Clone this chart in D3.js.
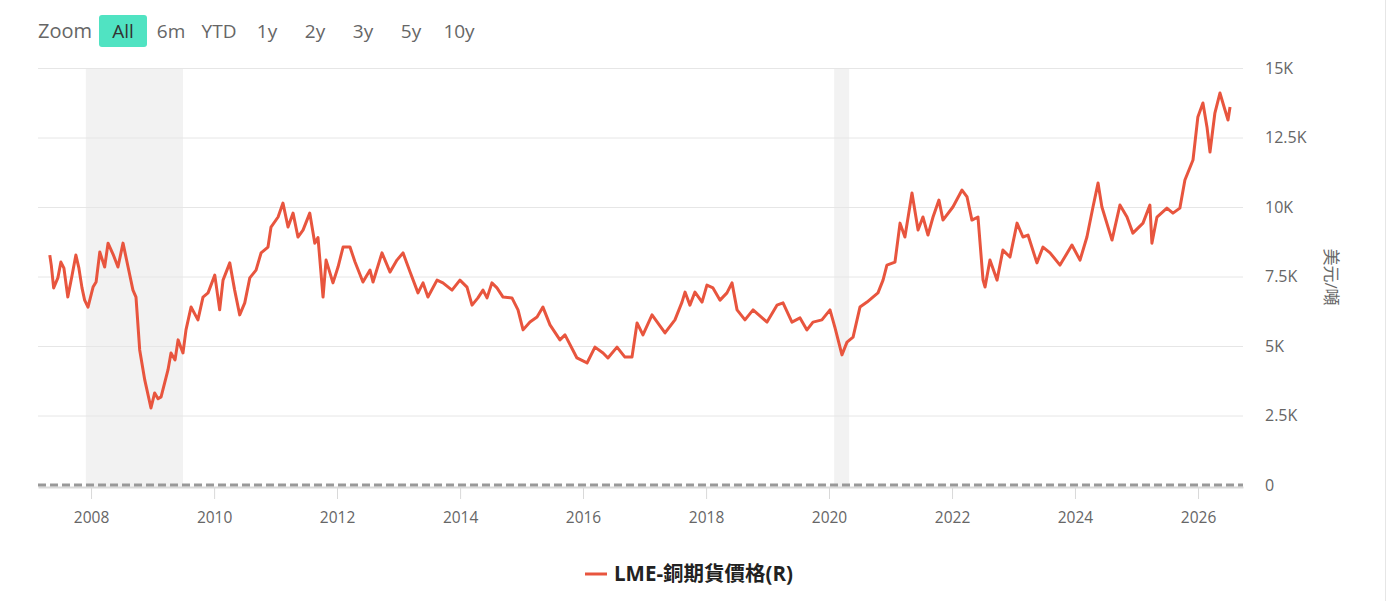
<!DOCTYPE html>
<html>
<head>
<meta charset="utf-8">
<script src="https://cdn.jsdelivr.net/npm/d3@7"></script>
<style>
  body { margin: 0; background: #fff; }
  svg text { font-family: "Open Sans", "Noto Sans", "Noto Sans CJK TC", sans-serif; }
</style>
</head>
<body>
<div id="wrapper"></div>
<script>
// LME copper futures, USD per tonne
const dates = [
  "2007-05-01","2007-05-10","2007-05-24","2007-06-18","2007-07-06","2007-07-24","2007-08-16","2007-09-09",
  "2007-10-03","2007-10-21","2007-11-08","2007-11-24","2007-12-14","2008-01-13","2008-01-31","2008-02-22",
  "2008-03-22","2008-04-11","2008-05-11","2008-06-09","2008-07-09","2008-08-08","2008-09-06","2008-09-24",
  "2008-10-16","2008-11-15","2008-12-22","2009-01-13","2009-02-02","2009-02-20","2009-04-02","2009-04-20",
  "2009-05-14","2009-06-01","2009-06-30","2009-07-18","2009-08-17","2009-09-27","2009-10-27","2009-11-26",
  "2010-01-05","2010-02-03","2010-02-23","2010-04-04","2010-05-03","2010-06-02","2010-07-02","2010-08-01",
  "2010-09-07","2010-10-07","2010-11-17","2010-12-05","2011-01-16","2011-02-14","2011-03-16","2011-04-15",
  "2011-05-14","2011-06-13","2011-07-23","2011-08-22","2011-09-10","2011-10-10","2011-10-28","2011-12-08",
  "2012-01-07","2012-02-06","2012-03-18","2012-04-17","2012-06-03","2012-07-15","2012-08-02","2012-09-24",
  "2012-11-11","2012-12-22","2013-01-27","2013-03-10","2013-04-26","2013-05-26","2013-06-24","2013-08-17",
  "2013-09-21","2013-11-14","2013-12-31","2014-02-11","2014-03-13","2014-04-17","2014-05-17","2014-06-10",
  "2014-07-09","2014-08-08","2014-09-13","2014-11-05","2014-12-11","2015-01-10","2015-02-20","2015-04-03",
  "2015-05-08","2015-06-19","2015-08-17","2015-09-16","2015-11-26","2016-01-25","2016-03-12","2016-04-29",
  "2016-05-28","2016-07-21","2016-09-06","2016-10-18","2016-11-17","2016-12-22","2017-02-14","2017-05-02",
  "2017-06-30","2017-08-11","2017-08-29","2017-09-27","2017-10-27","2017-12-08","2018-01-06","2018-02-11",
  "2018-03-25","2018-05-05","2018-06-04","2018-07-04","2018-08-20","2018-10-07","2018-12-29","2019-02-26",
  "2019-04-03","2019-05-26","2019-07-13","2019-08-23","2019-09-28","2019-11-20","2020-01-07","2020-02-06",
  "2020-03-18","2020-04-17","2020-05-23","2020-07-03","2020-08-14","2020-09-18","2020-10-18","2020-11-17",
  "2020-12-10","2021-01-27","2021-02-26","2021-03-27","2021-05-08","2021-06-13","2021-07-12","2021-08-11",
  "2021-09-10","2021-10-15","2021-11-08","2022-01-06","2022-03-01","2022-03-31","2022-04-29","2022-06-04",
  "2022-07-04","2022-07-16","2022-08-14","2022-09-25","2022-10-30","2022-12-11","2023-01-22","2023-02-26",
  "2023-03-28","2023-05-20","2023-06-25","2023-08-06","2023-10-04","2023-12-14","2024-01-31","2024-03-12",
  "2024-04-17","2024-05-17","2024-06-09","2024-08-08","2024-09-24","2024-11-05","2024-12-10","2025-02-08",
  "2025-03-21","2025-04-02","2025-05-02","2025-06-30","2025-08-05","2025-09-15","2025-10-15","2025-12-02",
  "2025-12-31","2026-01-30","2026-02-23","2026-03-13","2026-04-11","2026-05-11","2026-06-10","2026-06-28",
  "2026-07-10"
];
const copper = [
  8270,7900,7090,7450,8020,7800,6760,7500,
  8270,7800,7100,6650,6400,7120,7300,8380,
  7840,8700,8300,7840,8700,7840,7010,6760,
  4860,3780,2770,3310,3100,3170,4140,4750,
  4500,5220,4750,5580,6400,5940,6760,6910,
  7550,6300,7370,7990,7010,6120,6550,7450,
  7730,8350,8560,9280,9640,10140,9280,9780,
  8920,9170,9780,8700,8900,6760,8090,7270,
  7840,8560,8560,8020,7300,7730,7300,8350,
  7660,8090,8350,7660,6910,7270,6760,7370,
  7270,7010,7370,7120,6470,6730,7010,6730,
  7270,7090,6760,6730,6300,5580,5860,6040,
  6400,5760,5220,5400,4570,4390,4960,4750,
  4570,4960,4600,4600,5830,5400,6120,5470,
  5940,6580,6940,6470,6940,6580,7190,7090,
  6650,6910,7270,6300,5940,6300,5860,6470,
  6550,5860,6010,5580,5860,5940,6300,5650,
  4680,5140,5320,6400,6580,6760,6910,7370,
  7910,8020,9420,8920,10500,9170,9640,8990,
  9640,10250,9530,10000,10610,10360,9530,9640,
  7370,7120,8090,7370,8450,8200,9420,8920,
  8990,7990,8560,8350,7910,8630,8090,8920,
  10000,10860,10000,8810,10070,9640,9060,9420,
  10070,8700,9640,9960,9780,9960,10970,11690,
  13240,13740,12880,11980,13380,14100,13490,13130,
  13600
];

const recessions = [["2007-12-01", "2009-06-30"], ["2020-02-01", "2020-04-30"]];
const yTicks = [0, 2500, 5000, 7500, 10000, 12500, 15000];
const yTickLabels = ["0", "2.5K", "5K", "7.5K", "10K", "12.5K", "15K"];
const xTickYears = [2008, 2010, 2012, 2014, 2016, 2018, 2020, 2022, 2024, 2026];
const zoomButtons = ["All", "6m", "YTD", "1y", "2y", "3y", "5y", "10y"];
const seriesName = "LME-銅期貨價格(R)";
const unitLabel = "美元/噸";

const parse = d3.timeParse("%Y-%m-%d");
const data = dates.map((d, i) => ({ date: parse(d), value: copper[i] }));

var dimension = {
    width: 1387,
    height: 601,
    plot: { left: 38, right: 1243, top: 68, bottom: 485 }
};

const svg = d3.select("#wrapper").append("svg")
    .attr("width", dimension.width)
    .attr("height", dimension.height);

const xScaler = d3.scaleTime()
    .domain([parse("2007-02-20"), parse("2026-09-25")])
    .range([dimension.plot.left, dimension.plot.right]);
const yScaler = d3.scaleLinear()
    .domain([0, 15000])
    .range([dimension.plot.bottom, dimension.plot.top]);

// right border line
svg.append("line")
    .attr("x1", 1385.5).attr("x2", 1385.5).attr("y1", 0).attr("y2", dimension.height)
    .attr("stroke", "#e6e6e6");

// recession bands
svg.append("g").selectAll("rect")
    .data(recessions)
    .join("rect")
    .attr("x", d => xScaler(parse(d[0])))
    .attr("width", d => xScaler(parse(d[1])) - xScaler(parse(d[0])))
    .attr("y", dimension.plot.top)
    .attr("height", dimension.plot.bottom - dimension.plot.top + 2)
    .attr("fill", "#f2f2f2");

// grid + right axis
const yAxisGenerator = d3.axisRight(yScaler)
    .tickValues(yTicks)
    .tickSize(-(dimension.plot.right - dimension.plot.left))
    .tickFormat((d, i) => yTickLabels[i]);
const yAxis = svg.append("g")
    .attr("transform", `translate(${dimension.plot.right},0)`)
    .call(yAxisGenerator);
yAxis.select(".domain").remove();
yAxis.selectAll(".tick line").attr("stroke", "#e6e6e6");
yAxis.selectAll(".tick").filter(d => d === 0).select("line").remove();
yAxis.selectAll(".tick text")
    .attr("x", 22)
    .attr("fill", "#666")
    .style("font-size", "16px");

// x axis
const xAxisGenerator = d3.axisBottom(xScaler)
    .tickValues(xTickYears.map(y => new Date(y, 0, 1)))
    .tickFormat(d3.timeFormat("%Y"))
    .tickSize(12)
    .tickSizeOuter(0);
const xAxis = svg.append("g")
    .attr("transform", `translate(0,${dimension.plot.bottom + 2})`)
    .call(xAxisGenerator);
xAxis.select(".domain").attr("stroke", "#d9d9d9").attr("stroke-width", 2);
xAxis.selectAll(".tick line").attr("stroke", "#d9d9d9");
xAxis.selectAll(".tick text")
    .attr("y", 25)
    .attr("fill", "#666")
    .style("font-size", "15.5px");

// dashed zero line
svg.append("line")
    .attr("x1", dimension.plot.left).attr("x2", dimension.plot.right)
    .attr("y1", yScaler(0)).attr("y2", yScaler(0))
    .attr("stroke", "#999")
    .attr("stroke-width", 3)
    .attr("stroke-dasharray", "8,4");

// series line
const line = d3.line()
    .x(d => xScaler(d.date))
    .y(d => yScaler(d.value));
svg.append("path")
    .datum(data)
    .attr("d", line)
    .attr("fill", "none")
    .attr("stroke", "#e8553e")
    .attr("stroke-width", 3)
    .attr("stroke-linejoin", "round");

// axis title
svg.append("text")
    .attr("transform", `translate(1325,277) rotate(90)`)
    .attr("text-anchor", "middle")
    .attr("fill", "#666")
    .style("font-size", "17px")
    .text(unitLabel);

// range selector
svg.append("text")
    .attr("x", 38).attr("y", 38)
    .attr("fill", "#666")
    .style("font-size", "20px")
    .text("Zoom");
const btn = svg.append("g").selectAll("g")
    .data(zoomButtons)
    .join("g")
    .attr("transform", (d, i) => `translate(${99 + i * 48},15)`);
btn.filter((d, i) => i === 0).append("rect")
    .attr("width", 48).attr("height", 32).attr("rx", 3)
    .attr("fill", "#50e3c2");
btn.append("text")
    .attr("x", 24).attr("y", 23)
    .attr("text-anchor", "middle")
    .attr("fill", (d, i) => i === 0 ? "#333" : "#666")
    .style("font-size", "19px")
    .text(d => d);

// legend
svg.append("line")
    .attr("x1", 585).attr("x2", 607).attr("y1", 574).attr("y2", 574)
    .attr("stroke", "#e8553e").attr("stroke-width", 3);
svg.append("text")
    .attr("x", 614).attr("y", 581)
    .attr("fill", "#222")
    .style("font-size", "20.5px")
    .style("font-weight", "bold")
    .text(seriesName);
</script>
</body>
</html>
